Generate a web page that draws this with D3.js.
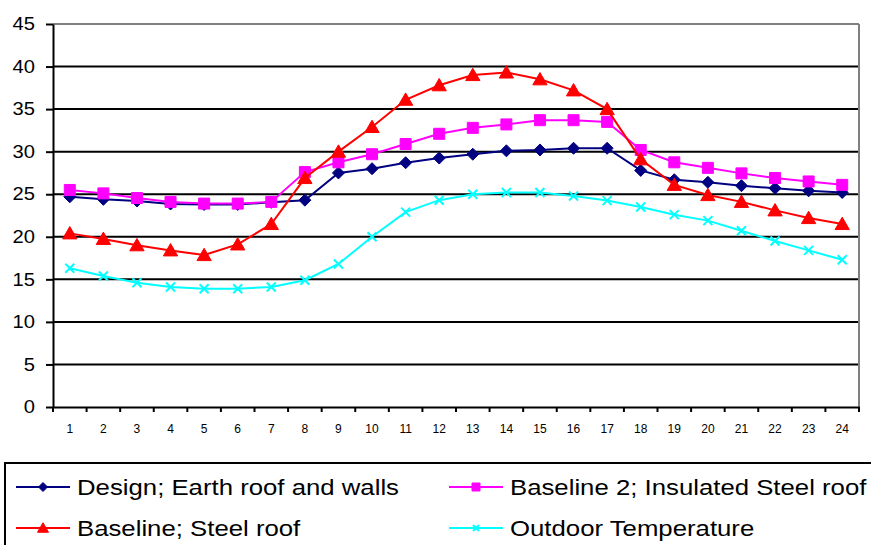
<!DOCTYPE html>
<html>
<head>
<meta charset="utf-8">
<script src="https://cdn.jsdelivr.net/npm/d3@7"></script>
<style>
  body { margin: 0; background: #fff; }
  svg { display: block; font-family: "Liberation Sans", Arial, sans-serif; }
</style>
</head>
<body>
<div id="chart"></div>
<script>
// Hours of the day
const hours = d3.range(1, 25);
const yTicks = [0, 5, 10, 15, 20, 25, 30, 35, 40, 45];

const design = [24.7, 24.4, 24.2, 23.85, 23.8, 23.8, 24.05, 24.3, 27.5, 28.0, 28.7, 29.25,
  29.7, 30.1, 30.2, 30.4, 30.4, 27.8, 26.7, 26.4, 26.0, 25.7, 25.4, 25.2];
const baseline2 = [25.5, 25.1, 24.55, 24.1, 23.9, 23.9, 24.1, 27.6, 28.75, 29.7, 30.9, 32.1,
  32.8, 33.2, 33.7, 33.7, 33.5, 30.2, 28.75, 28.1, 27.45, 26.9, 26.5, 26.1];
const baseline = [20.4, 19.75, 19.0, 18.4, 17.85, 19.1, 21.5, 26.9, 30.0, 32.9, 36.1, 37.8,
  39.0, 39.3, 38.5, 37.2, 35.0, 29.1, 26.1, 24.9, 24.1, 23.1, 22.2, 21.5];
const outdoor = [16.3, 15.4, 14.6, 14.1, 13.9, 13.9, 14.1, 14.9, 16.8, 20.0, 22.9, 24.3,
  25.0, 25.2, 25.2, 24.8, 24.25, 23.5, 22.6, 21.9, 20.7, 19.5, 18.4, 17.3];

const seriesNames = ["Design; Earth roof and walls", "Baseline 2; Insulated Steel roof",
  "Baseline; Steel roof", "Outdoor Temperature"];
const seriesValues = [design, baseline2, baseline, outdoor];
const seriesColors = ["#000080", "#ff00ff", "#ff0000", "#00ffff"];
const seriesMarkers = ["diamond", "square", "triangle", "cross"];

const W = 871, H = 545;
const margin = { top: 24, right: 12, bottom: 138, left: 53 };
const sx = 1.12; // text in the original looks horizontally stretched

const svg = d3.select("#chart").append("svg")
  .attr("width", W).attr("height", H);

const x = d3.scaleBand().domain(hours).range([margin.left, W - margin.right]);
const y = d3.scaleLinear().domain([0, 45]).range([H - margin.bottom, margin.top]);

// gridlines
svg.append("g").selectAll("line")
  .data(yTicks.filter(d => d > 0))
  .join("line")
  .attr("x1", margin.left).attr("x2", W - margin.right)
  .attr("y1", d => y(d)).attr("y2", d => y(d))
  .attr("stroke", d => d === 45 ? "#808080" : "#000")
  .attr("stroke-width", 2);

// right border of plot area
svg.append("line")
  .attr("x1", W - margin.right).attr("x2", W - margin.right)
  .attr("y1", y(45)).attr("y2", y(0))
  .attr("stroke", "#808080").attr("stroke-width", 2);

// y axis
const yAxis = svg.append("g")
  .attr("transform", "translate(" + margin.left + ",0)")
  .call(d3.axisLeft(y).tickValues(yTicks).tickSize(7).tickPadding(11).tickSizeOuter(0));
yAxis.select(".domain").attr("stroke", "#000").attr("stroke-width", 2);
yAxis.selectAll(".tick line").attr("stroke", "#000").attr("stroke-width", 2);
yAxis.selectAll("text")
  .attr("font-size", 18).attr("fill", "#000")
  .attr("font-family", "Liberation Sans, Arial, sans-serif")
  .attr("transform", "scale(" + sx + ",1)")
  .attr("x", -18 / sx);

// x axis, ticks between categories
const xAxis = svg.append("g")
  .attr("transform", "translate(0," + y(0) + ")")
  .call(d3.axisBottom(x).tickSize(0).tickPadding(17));
xAxis.select(".domain").attr("stroke", "#000").attr("stroke-width", 2);
xAxis.selectAll("text").attr("font-size", 12).attr("fill", "#000")
  .attr("font-family", "Liberation Sans, Arial, sans-serif");
xAxis.selectAll(".cat-tick")
  .data(hours.concat([25]))
  .join("line")
  .attr("class", "cat-tick")
  .attr("x1", d => d <= 24 ? x(d) : x(24) + x.bandwidth())
  .attr("x2", d => d <= 24 ? x(d) : x(24) + x.bandwidth())
  .attr("y1", 0).attr("y2", 5)
  .attr("stroke", "#000").attr("stroke-width", 2);

const cx = d => x(d) + x.bandwidth() / 2;

function markerPath(type, s) {
  const h = s / 2;
  if (type === "diamond") return `M0,${-h}L${h},0L0,${h}L${-h},0Z`;
  if (type === "square") return `M${-h},${-h}H${h}V${h}H${-h}Z`;
  if (type === "triangle") return `M0,${-h * 1.05}L${h * 1.1},${h * 0.85}L${-h * 1.1},${h * 0.85}Z`;
  return `M${-h},${-h}L${h},${h}M${-h},${h}L${h},${-h}`;
}
const markerSize = { diamond: 12, square: 11, triangle: 13, cross: 9 };

const line = d3.line()
  .x((d, i) => cx(hours[i]))
  .y(d => y(d));

seriesValues.forEach((vals, k) => {
  const g = svg.append("g");
  g.append("path")
    .attr("d", line(vals))
    .attr("fill", "none")
    .attr("stroke", seriesColors[k])
    .attr("stroke-width", 2);
  const m = seriesMarkers[k];
  g.selectAll("path.mk")
    .data(vals)
    .join("path")
    .attr("class", "mk")
    .attr("transform", (d, i) => "translate(" + cx(hours[i]) + "," + y(d) + ")")
    .attr("d", markerPath(m, markerSize[m]))
    .attr("fill", m === "cross" ? "none" : seriesColors[k])
    .attr("stroke", seriesColors[k])
    .attr("stroke-width", m === "cross" ? 2 : 1);
});

// legend
const legend = svg.append("g");
legend.append("rect")
  .attr("x", 5).attr("y", 463)
  .attr("width", 880).attr("height", 120)
  .attr("fill", "none").attr("stroke", "#000").attr("stroke-width", 2);

const legendPos = [[16, 487], [449, 487], [16, 528], [449, 528]];
seriesNames.forEach((name, k) => {
  const [lx, ly] = legendPos[k];
  const g = legend.append("g").attr("transform", "translate(" + lx + "," + ly + ")");
  g.append("line")
    .attr("x1", 0).attr("x2", 54).attr("y1", 0).attr("y2", 0)
    .attr("stroke", seriesColors[k]).attr("stroke-width", 2);
  const m = seriesMarkers[k];
  g.append("path")
    .attr("transform", "translate(27,0)")
    .attr("d", markerPath(m, markerSize[m] - 3))
    .attr("fill", m === "cross" ? "none" : seriesColors[k])
    .attr("stroke", seriesColors[k])
    .attr("stroke-width", m === "cross" ? 2 : 1);
  g.append("text")
    .attr("transform", "translate(61,0) scale(" + sx + ",1)")
    .attr("dy", "0.35em")
    .attr("font-size", 23)
    .attr("fill", "#000")
    .text(name);
});
</script>
</body>
</html>
